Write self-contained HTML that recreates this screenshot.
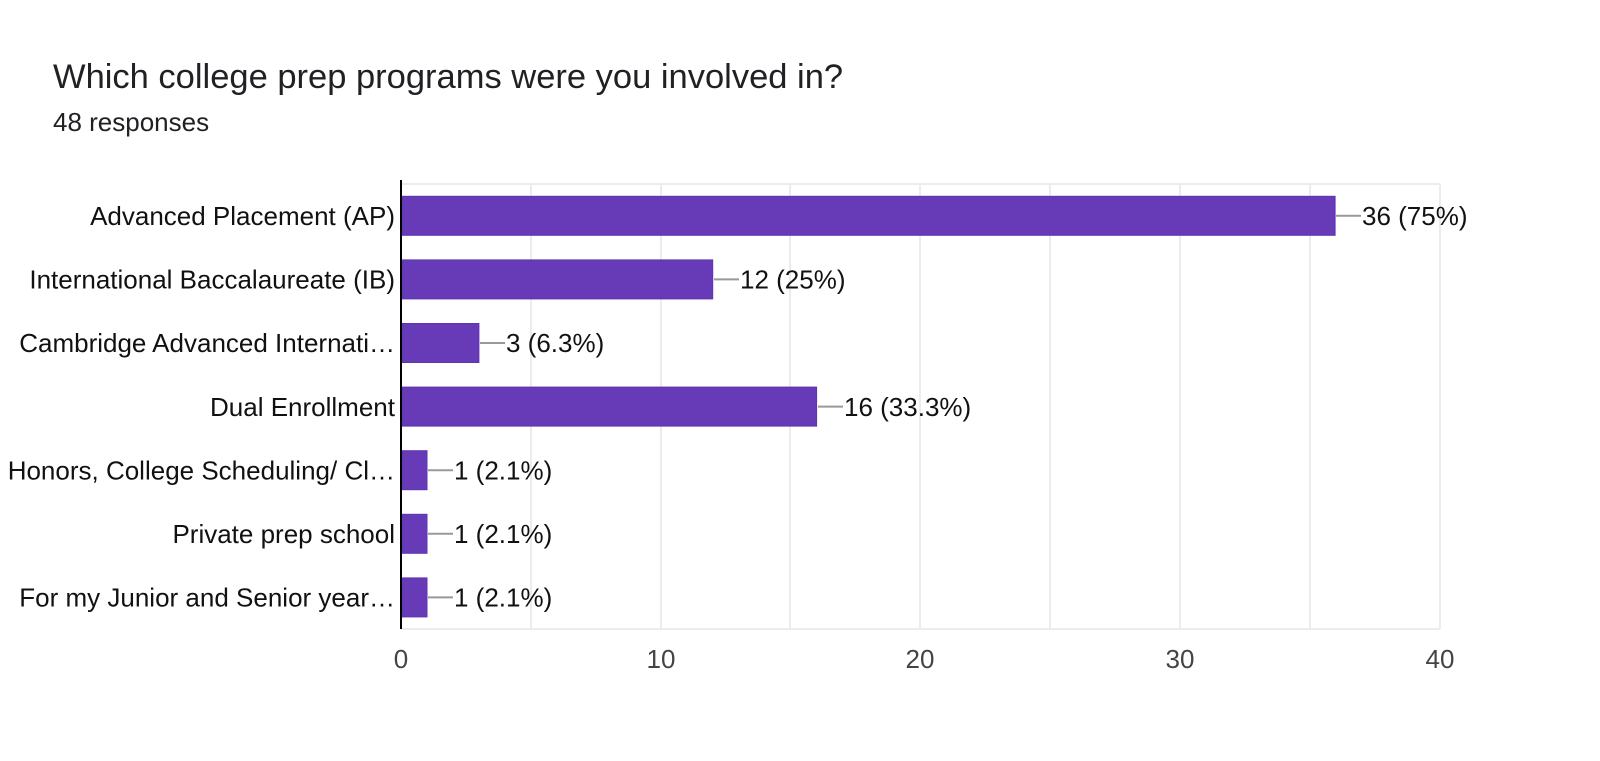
<!DOCTYPE html>
<html><head><meta charset="utf-8"><style>
html,body{margin:0;padding:0;background:#fff;}
svg{display:block;}
</style></head><body>
<svg width="1600" height="761" xmlns="http://www.w3.org/2000/svg" font-family="Liberation Sans, Arial, sans-serif">
<rect width="1600" height="761" fill="#fff"/>
<text x="53" y="88" font-size="34.5" fill="#202124">Which college prep programs were you involved in?</text>
<text x="53" y="131" font-size="26" fill="#202124">48 responses</text>
<g stroke="#ececec" stroke-width="2">
<line x1="531" y1="184" x2="531" y2="629"/>
<line x1="661" y1="184" x2="661" y2="629"/>
<line x1="790" y1="184" x2="790" y2="629"/>
<line x1="920" y1="184" x2="920" y2="629"/>
<line x1="1050" y1="184" x2="1050" y2="629"/>
<line x1="1180" y1="184" x2="1180" y2="629"/>
<line x1="1310" y1="184" x2="1310" y2="629"/>
<line x1="1440" y1="184" x2="1440" y2="629"/>
<line x1="401" y1="184" x2="1440" y2="184"/>
<line x1="401" y1="629" x2="1440" y2="629"/>
</g>
<g fill="#673ab7" stroke="#5e35b1" stroke-width="1">
<rect x="402" y="196.3" width="933.1" height="39"/>
<rect x="402" y="259.9" width="310.7" height="39"/>
<rect x="402" y="323.5" width="76.9" height="39"/>
<rect x="402" y="387.1" width="414.6" height="39"/>
<rect x="402" y="450.7" width="25" height="39"/>
<rect x="402" y="514.3" width="25" height="39"/>
<rect x="402" y="577.9" width="25" height="39"/>
</g>
<line x1="401" y1="180" x2="401" y2="629" stroke="#000" stroke-width="2"/>
<g stroke="#999" stroke-width="2">
<line x1="1336" y1="215.8" x2="1361" y2="215.8"/>
<line x1="714" y1="279.4" x2="739" y2="279.4"/>
<line x1="480" y1="343" x2="505" y2="343"/>
<line x1="818" y1="406.6" x2="843" y2="406.6"/>
<line x1="428" y1="470.2" x2="453" y2="470.2"/>
<line x1="428" y1="533.8" x2="453" y2="533.8"/>
<line x1="428" y1="597.4" x2="453" y2="597.4"/>
</g>
<g font-size="26" fill="#111">
<text x="1362" y="225">36 (75%)</text>
<text x="740" y="288.6">12 (25%)</text>
<text x="506" y="352.2">3 (6.3%)</text>
<text x="844" y="415.8">16 (33.3%)</text>
<text x="454" y="479.4">1 (2.1%)</text>
<text x="454" y="543">1 (2.1%)</text>
<text x="454" y="606.6">1 (2.1%)</text>
</g>
<g font-size="26" fill="#111" text-anchor="end">
<text x="395" y="225">Advanced Placement (AP)</text>
<text x="395" y="288.6">International Baccalaureate (IB)</text>
<text x="395" y="352.2">Cambridge Advanced Internati…</text>
<text x="395" y="415.8">Dual Enrollment</text>
<text x="395" y="479.4">Honors, College Scheduling/ Cl…</text>
<text x="395" y="543">Private prep school</text>
<text x="395" y="606.6">For my Junior and Senior year…</text>
</g>
<g font-size="26" fill="#444" text-anchor="middle">
<text x="401" y="668">0</text>
<text x="661" y="668">10</text>
<text x="920" y="668">20</text>
<text x="1180" y="668">30</text>
<text x="1440" y="668">40</text>
</g>
</svg>
</body></html>
